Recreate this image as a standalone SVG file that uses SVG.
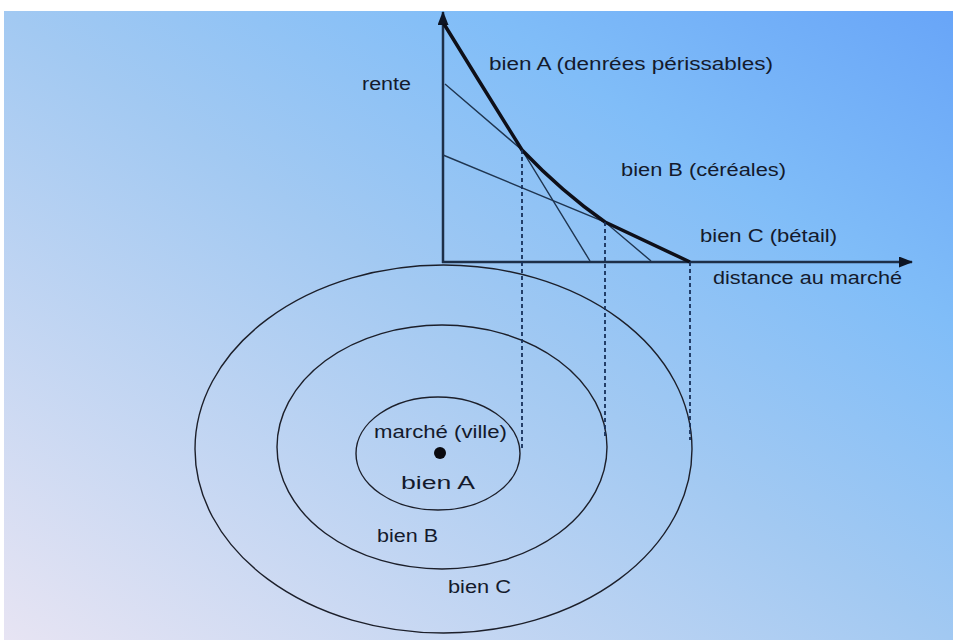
<svg xmlns="http://www.w3.org/2000/svg" width="953" height="640" viewBox="0 0 953 640">
<style>
text{font-family:"Liberation Sans",Arial,sans-serif;font-size:17.5px;fill:#141a2c}
.axis{stroke:#1d2f48;stroke-width:2.5;fill:none}
.thin{stroke:#1f3550;stroke-width:1.4;fill:none}
.bold{stroke:#0e0f18;stroke-width:3.5;fill:none;stroke-linejoin:round}
.dash{stroke:#17305a;stroke-width:1.8;stroke-dasharray:4 3;fill:none}
.zone{stroke:#1c1f2a;stroke-width:1.4;fill:none}
</style>
<defs>
<linearGradient id="bg" x1="0" y1="1" x2="1" y2="0">
<stop offset="0" stop-color="#e7e4f3"/>
<stop offset="0.5" stop-color="#a2c9f2"/>
<stop offset="0.75" stop-color="#80bdf8"/>
<stop offset="1" stop-color="#68a5f8"/>
</linearGradient>
<marker id="arr" markerUnits="userSpaceOnUse" markerWidth="14" markerHeight="11" refX="13" refY="5.5" orient="auto">
<path d="M0,0 L14,5.5 L0,11 Z" fill="#0e1524"/>
</marker>
</defs>
<rect x="0" y="0" width="953" height="640" fill="#ffffff"/>
<rect x="4" y="11" width="949" height="629" fill="url(#bg)"/>

<g id="zones">
<ellipse id="zone-C" class="zone" cx="443.5" cy="449" rx="248.5" ry="184"/>
<ellipse id="zone-B" class="zone" cx="442" cy="447" rx="165" ry="122"/>
<ellipse id="zone-A" class="zone" cx="438" cy="453.5" rx="82" ry="56.5"/>
<circle id="marche" cx="440" cy="453" r="6" fill="#0a0a0f"/>
</g>

<g id="axes">
<line class="axis" x1="443" y1="263" x2="443" y2="12" marker-end="url(#arr)"/>
<line class="axis" x1="442" y1="262" x2="912" y2="262" marker-end="url(#arr)"/>
</g>

<g id="connectors">
<polyline id="rente-A" class="thin" points="445,84 522,150 590,261"/>
<polyline id="rente-B" class="thin" points="443,155 605,222 651,261"/>
<path id="enveloppe" class="bold" d="M444,24 Q482,86 522,150 Q562,192 605,222 L690,262"/>
<line class="dash" x1="522" y1="150" x2="522" y2="450"/>
<line class="dash" x1="605" y1="222" x2="605" y2="438"/>
<line class="dash" x1="690" y1="262" x2="690" y2="440"/>
</g>

<g id="labels">
<text x="362" y="90" textLength="49" lengthAdjust="spacingAndGlyphs">rente</text>
<text x="489" y="70" textLength="284" lengthAdjust="spacingAndGlyphs">bien A (denrées périssables)</text>
<text x="621" y="176" textLength="165" lengthAdjust="spacingAndGlyphs">bien B (céréales)</text>
<text x="700" y="242" textLength="137" lengthAdjust="spacingAndGlyphs">bien C (bétail)</text>
<text x="713" y="284" textLength="189" lengthAdjust="spacingAndGlyphs">distance au marché</text>
<text x="374" y="438" textLength="133" lengthAdjust="spacingAndGlyphs">marché (ville)</text>
<text x="401" y="489" textLength="74" lengthAdjust="spacingAndGlyphs">bien A</text>
<text x="377" y="542" textLength="61" lengthAdjust="spacingAndGlyphs">bien B</text>
<text x="448" y="593" textLength="63" lengthAdjust="spacingAndGlyphs">bien C</text>
</g>
</svg>
